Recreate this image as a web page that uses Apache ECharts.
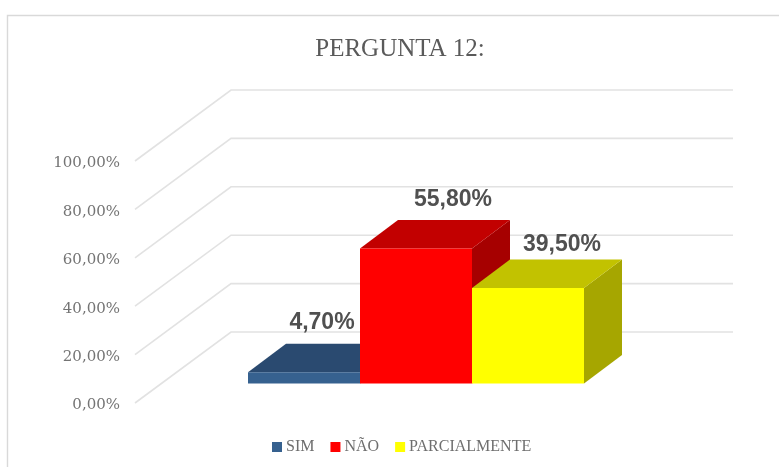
<!DOCTYPE html>
<html>
<head>
<meta charset="utf-8">
<style>html,body{margin:0;padding:0;background:#fff}#c{width:779px;height:467px}</style>
<script src="https://cdn.jsdelivr.net/npm/echarts@6/dist/echarts.min.js"></script>
</head>
<body>
<div id="c"></div>
<script>
const categories = ['PERGUNTA 12'];
const seriesNames = ['SIM', 'NÃO', 'PARCIALMENTE'];
const simValues = [4.7];
const naoValues = [55.8];
const parcialValues = [39.5];
const dataLabels = ['4,70%', '55,80%', '39,50%'];
const tickValues = [0, 20, 40, 60, 80, 100];
const tickLabels = ['0,00%', '20,00%', '40,00%', '60,00%', '80,00%', '100,00%'];

const FONT_SERIF = '"Liberation Serif", serif';
const WALL_DX = 96, WALL_DY = -71;
const BAR_DX = 38, BAR_DY = -28.5;
const FLOOR_DX = 26, FLOOR_DY = -19.5;
const BAR_W = 112, BAR_SHIFT = 4;
const LABEL_OFFSETS = [[18, -49], [37, -49], [34, -43]];
const SHADES = [
  { front: '#36618f', top: '#2a4a70', side: '#223c5c' },
  { front: '#ff0000', top: '#c20000', side: '#a60000' },
  { front: '#ffff00', top: '#c2c200', side: '#a6a600' }
];

function bar3d(idx) {
  return function (params, api) {
    const base = api.coord([0, 0]);
    const top = api.coord([0, api.value(1)]);
    const x0 = base[0] + BAR_SHIFT + FLOOR_DX + (idx - 1.5) * BAR_W;
    const x1 = x0 + BAR_W;
    const yb = base[1] + FLOOR_DY;
    const yt = top[1] + FLOOR_DY;
    const s = SHADES[idx];
    const poly = (pts, fill) => ({ type: 'polygon', shape: { points: pts }, style: { fill: fill } });
    return {
      type: 'group',
      children: [
        poly([[x1, yb], [x1 + BAR_DX, yb + BAR_DY], [x1 + BAR_DX, yt + BAR_DY], [x1, yt]], s.side),
        poly([[x0, yt], [x1, yt], [x1 + BAR_DX, yt + BAR_DY], [x0 + BAR_DX, yt + BAR_DY]], s.top),
        poly([[x0, yb], [x1, yb], [x1, yt], [x0, yt]], s.front),
        {
          type: 'text',
          style: {
            text: dataLabels[idx],
            x: (x0 + x1) / 2 + LABEL_OFFSETS[idx][0],
            y: yt + LABEL_OFFSETS[idx][1],
            align: 'center',
            verticalAlign: 'middle',
            font: 'bold 23px "Liberation Sans", Arial, sans-serif',
            fill: '#505050'
          }
        }
      ]
    };
  };
}

function wallLine(params, api) {
  const cs = params.coordSys;
  const y = api.coord([0, api.value(1)])[1];
  return {
    type: 'polyline',
    shape: { points: [
      [cs.x, y],
      [cs.x + WALL_DX, y + WALL_DY],
      [cs.x + cs.width + WALL_DX, y + WALL_DY]
    ] },
    style: { fill: null, stroke: '#e2e2e2', lineWidth: 1.6 }
  };
}

const chart = echarts.init(document.getElementById('c'), null, { renderer: 'canvas' });
chart.setOption({
  animation: false,
  backgroundColor: '#ffffff',
  title: {
    text: 'PERGUNTA 12:',
    left: 395, top: 32, textAlign: 'center',
    textStyle: { fontFamily: FONT_SERIF, fontWeight: 'normal', fontSize: 25, color: '#5a5a5a' }
  },
  legend: {
    data: seriesNames,
    left: 272, top: 439, padding: 0,
    itemWidth: 10, itemHeight: 10, itemGap: 16,
    icon: 'rect',
    textStyle: { fontFamily: FONT_SERIF, fontSize: 16, color: '#6e6e6e', padding: [0, 0, 0, -1] }
  },
  grid: { left: 135, top: 161, width: 502, height: 242 },
  xAxis: { type: 'category', data: categories, show: false },
  yAxis: {
    type: 'value', min: 0, max: 100, interval: 20,
    axisLine: { show: false }, axisTick: { show: false }, splitLine: { show: false },
    axisLabel: {
      margin: 15,
      fontFamily: '"DejaVu Serif", serif', fontSize: 15, color: '#747474',
      verticalAlign: 'top', lineHeight: 5,
      formatter: (v) => tickLabels[tickValues.indexOf(v)]
    }
  },
  series: [
    {
      type: 'custom', name: 'parede', silent: true, z: 1,
      renderItem: wallLine,
      data: tickValues.map((v) => [0, v])
    },
    { type: 'custom', name: seriesNames[0], z: 2, renderItem: bar3d(0), itemStyle: { color: SHADES[0].front }, data: [[0, simValues[0]]] },
    { type: 'custom', name: seriesNames[1], z: 3, renderItem: bar3d(1), itemStyle: { color: SHADES[1].front }, data: [[0, naoValues[0]]] },
    { type: 'custom', name: seriesNames[2], z: 4, renderItem: bar3d(2), itemStyle: { color: SHADES[2].front }, data: [[0, parcialValues[0]]] }
  ],
  graphic: [
    { type: 'polyline', silent: true, z: 0,
      shape: { points: [[7.5, 467], [7.5, 15.5], [779, 15.5]] },
      style: { fill: null, stroke: '#d9d9d9', lineWidth: 1.4 } }
  ]
});
</script>
</body>
</html>
